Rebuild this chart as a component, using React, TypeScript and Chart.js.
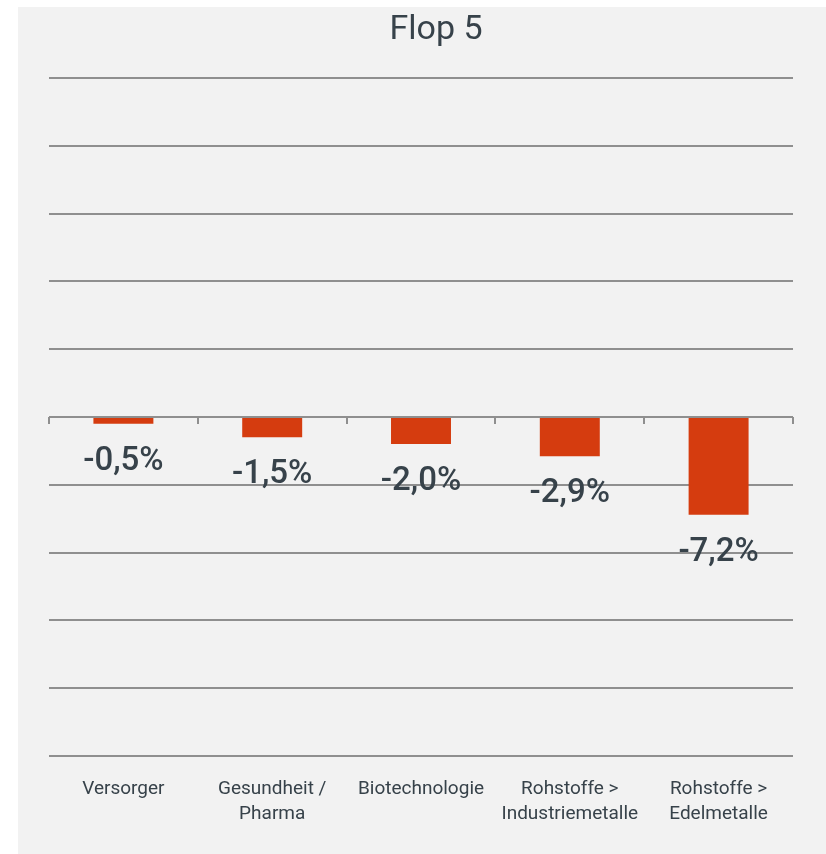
import React, { useEffect, useRef } from "react";
import { Chart, registerables } from "chart.js";

Chart.register(...registerables);

const TITLE = "Flop 5";
const CATEGORIES: (string | string[])[] = [
  "Versorger",
  ["Gesundheit /", "Pharma"],
  "Biotechnologie",
  ["Rohstoffe >", "Industriemetalle"],
  ["Rohstoffe >", "Edelmetalle"],
];
const VALUES = [-0.5, -1.5, -2.0, -2.9, -7.2];
const Y_MIN = -25;
const Y_MAX = 25;
const Y_STEP = 5;

const BAR_COLOR = "#D53C0F";
const TEXT_COLOR = "#37424A";
const GRID_COLOR = "#8F8F8F";
const FONT = "Roboto, 'Noto Sans', sans-serif";

const fmt = (v: number) => v.toFixed(1).replace(".", ",") + "%";

export default function App() {
  const ref = useRef<HTMLCanvasElement | null>(null);

  useEffect(() => {
    if (!ref.current) return;

    const bgPlugin = {
      id: "bg",
      beforeDraw(chart: any) {
        const { ctx, width, height } = chart;
        ctx.save();
        ctx.fillStyle = "#ffffff";
        ctx.fillRect(0, 0, width, height);
        ctx.fillStyle = "#F2F2F2";
        ctx.fillRect(18, 7, width - 18, height - 7);
        ctx.restore();
      },
    };

    const overlayPlugin = {
      id: "overlay",
      afterDatasetsDraw(chart: any) {
        const { ctx, chartArea } = chart;
        const y = chart.scales.y;
        const y0 = y.getPixelForValue(0);
        ctx.save();
        // zero-line tick marks at category boundaries
        ctx.strokeStyle = GRID_COLOR;
        ctx.lineWidth = 2;
        const n = CATEGORIES.length;
        const w = (chartArea.right - chartArea.left) / n;
        for (let i = 0; i <= n; i++) {
          const px = Math.round(chartArea.left + i * w);
          ctx.beginPath();
          ctx.moveTo(px, y0);
          ctx.lineTo(px, y0 + 7);
          ctx.stroke();
        }
        // data labels
        ctx.fillStyle = TEXT_COLOR;
        ctx.font = `500 33px ${FONT}`;
        ctx.textAlign = "center";
        ctx.textBaseline = "alphabetic";
        const meta = chart.getDatasetMeta(0);
        meta.data.forEach((bar: any, i: number) => {
          ctx.fillText(fmt(VALUES[i]), bar.x, bar.y + 46);
        });
        // title
        ctx.font = `34px ${FONT}`;
        ctx.fillText(TITLE, 436, 39);
        ctx.restore();
      },
    };

    const chart = new Chart(ref.current, {
      type: "bar",
      data: {
        labels: CATEGORIES,
        datasets: [
          {
            data: VALUES,
            backgroundColor: BAR_COLOR,
            borderWidth: 0,
            categoryPercentage: 1,
            barPercentage: 0.403,
          },
        ],
      },
      options: {
        responsive: false,
        animation: false,
        devicePixelRatio: 1,
        layout: { padding: { left: 49, right: 33, top: 78, bottom: 28 } },
        plugins: {
          legend: { display: false },
          title: { display: false },
          tooltip: { enabled: false },
        },
        scales: {
          x: {
            grid: { display: false, drawTicks: false },
            border: { display: false },
            ticks: {
              color: TEXT_COLOR,
              font: { family: FONT, size: 19, lineHeight: 1.3 },
              padding: 21,
              maxRotation: 0,
              autoSkip: false,
            },
            afterFit: (s: any) => {
              s.height = 70;
            },
          },
          y: {
            min: Y_MIN,
            max: Y_MAX,
            ticks: { display: false, stepSize: Y_STEP },
            grid: { color: GRID_COLOR, lineWidth: 2, drawTicks: false },
            border: { display: false },
            afterFit: (s: any) => {
              s.width = 0;
            },
          },
        },
      },
      plugins: [bgPlugin, overlayPlugin],
    });

    return () => chart.destroy();
  }, []);

  return (
    <div style={{ position: "fixed", left: 0, top: 0, width: 826, height: 854 }}>
      <canvas ref={ref} width={826} height={854} style={{ display: "block" }} />
    </div>
  );
}
